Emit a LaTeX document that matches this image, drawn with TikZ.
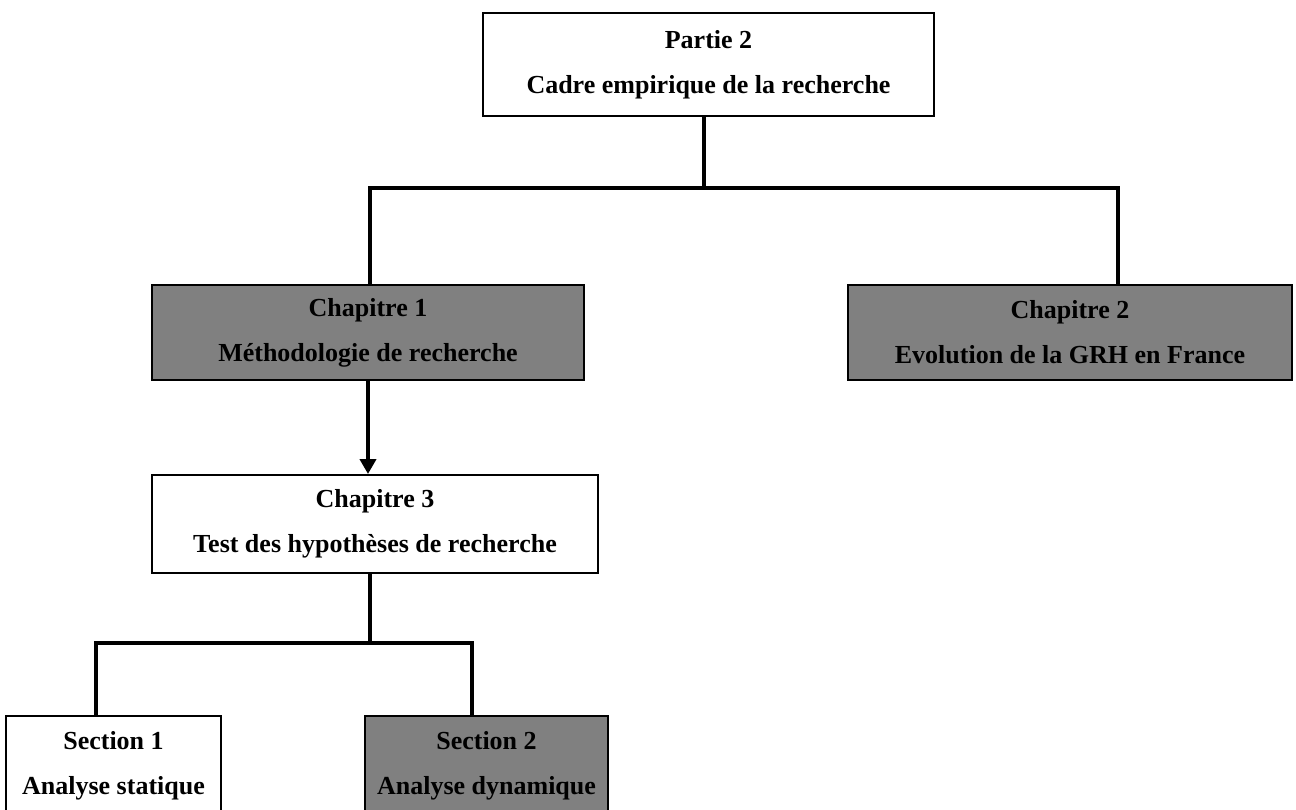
\documentclass[tikz,border=0pt]{standalone}
\usepackage{fontspec}
\setmainfont{Liberation Serif}
\usepackage{xcolor}
\usetikzlibrary{positioning,calc,arrows.meta}
\definecolor{boxgray}{HTML}{808080}
\tikzstyle{every node}=[font=\bfseries\fontsize{14.8}{25.6}\selectfont]
\tikzset{
  box/.style={draw, line width=1.1pt, align=center, inner sep=0pt},
  grey/.style={box, fill=boxgray},
  link/.style={line width=2.2pt}
}

\begin{document}
\begin{tikzpicture}[x=0.02cm,y=-0.02cm]
        \useasboundingbox (0,0) rectangle (1296,810);
        \clip (0,0) rectangle (1296,810);
        \node[box, minimum width=9.02cm, minimum height=2.06cm] (partie) at (708.5,64.5) {Partie 2\\Cadre empirique de la recherche};
        \node[grey, minimum width=8.64cm, minimum height=1.9cm] (ch1) at (368,332.5) {Chapitre 1\\M\'ethodologie de recherche};
        \node[grey, minimum width=8.88cm, minimum height=1.9cm] (ch2) at (1070,332.5) {Chapitre 2\\Evolution de la GRH en France};
        \node[box, minimum width=8.92cm, minimum height=1.96cm] (ch3) at (375,524) {Chapitre 3\\Test des hypoth\`eses de recherche};
        \node[box, minimum width=4.3cm, minimum height=2cm] (sec1) at (113.5,766) {Section 1\\Analyse statique};
        \node[grey, minimum width=4.86cm, minimum height=2cm] (sec2) at (486.5,766) {Section 2\\Analyse dynamique};
        \coordinate (j1) at (370,188);
        \coordinate (j2) at (1118,188);
        \coordinate (j3) at (96,643);
        \coordinate (j4) at (472,643);
        \draw[link] (partie.south -| 704,0) -- (704,188);
        \draw[link] (j1 |- ch1.north) -- (j1) -- (j2) -- (j2 |- ch2.north);
        \draw[link,-{Triangle[width=0.32cm,length=0.3cm]}] (ch1.south) -- (ch1.south |- ch3.north);
        \draw[link] (ch3.south -| j1) -- (j1 |- j3);
        \draw[link] (j3 |- sec1.north) -- (j3) -- (j4) -- (j4 |- sec2.north);
\end{tikzpicture}
\end{document}
